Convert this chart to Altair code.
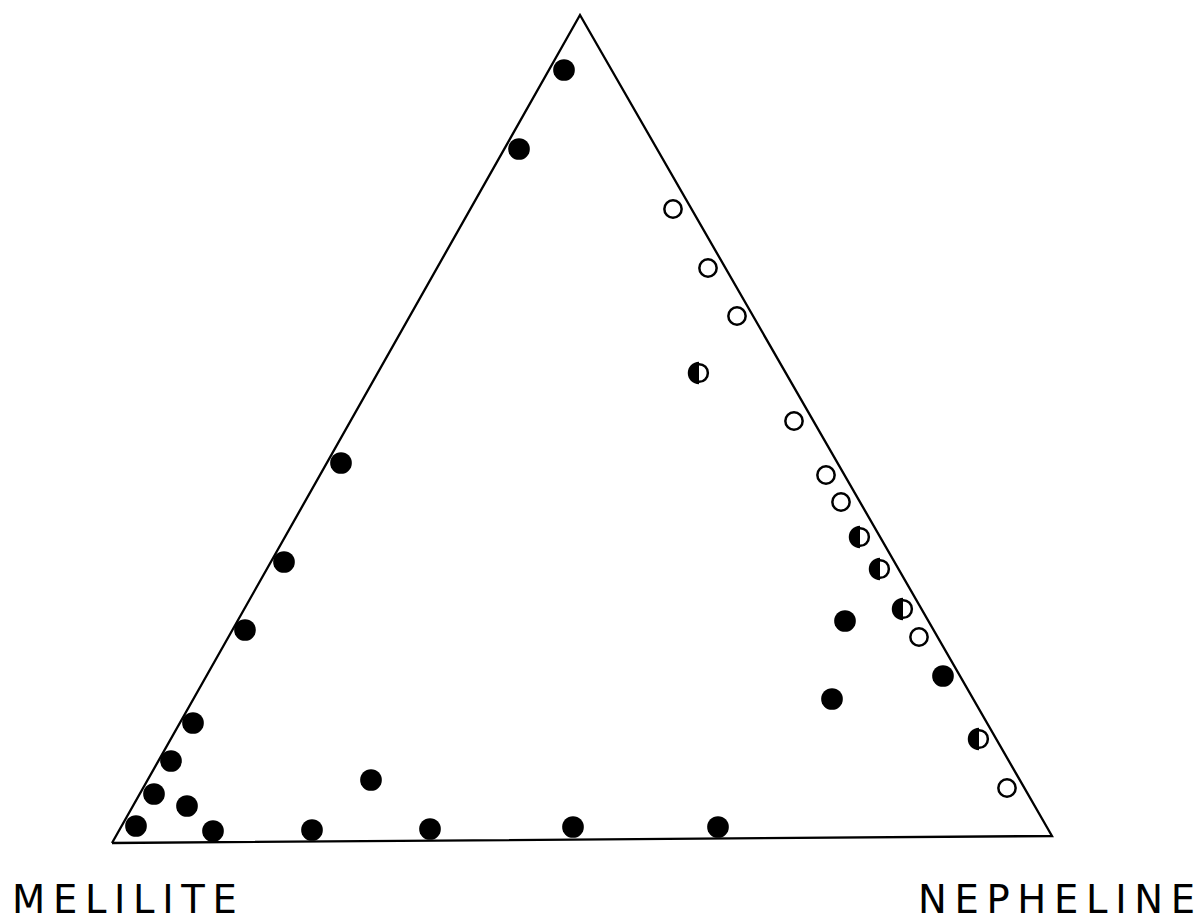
import altair as alt
import pandas as pd

W, H = 1198, 920

# Triangle outline (closed), drawing coordinates
tri_x = [112, 580, 1052, 112]
tri_y = [843, 15, 836, 843]

# Solid symbols
solid_x = [564, 519, 341, 284, 245, 193, 171, 154, 136, 187, 213, 312, 371, 430, 573, 718, 845, 832, 943]
solid_y = [70, 149, 463, 562, 630, 723, 761, 794, 826, 806, 831, 830, 780, 829, 827, 827, 621, 699, 676]

# Open symbols
hollow_x = [673, 708, 737, 794, 826, 841, 919, 1007]
hollow_y = [209, 268, 316, 421, 475, 502, 637, 788]

# Half-filled symbols
half_x = [699, 860, 880, 903, 979]
half_y = [373, 537, 569, 609, 739]

corner_left = "MELILITE"
corner_right = "NEPHELINE"

# letter-spaced labels (thin space between letters)
THIN = "\u2009"


def spaced(s):
    return THIN.join(s)


xs = alt.Scale(domain=[0, W], nice=False, zero=False)
ys = alt.Scale(domain=[0, H], nice=False, zero=False, reverse=True)


def enc(**kw):
    return dict(
        x=alt.X("x:Q", scale=xs, axis=None),
        y=alt.Y("y:Q", scale=ys, axis=None),
        **kw,
    )


tri = pd.DataFrame({"x": tri_x, "y": tri_y, "i": range(len(tri_x))})
solid = pd.DataFrame({"x": solid_x, "y": solid_y})
hollow = pd.DataFrame({"x": hollow_x, "y": hollow_y})
half = pd.DataFrame({"x": half_x, "y": half_y})

outline = alt.Chart(tri).mark_line(color="black", strokeWidth=2.3).encode(
    **enc(order="i:Q")
)

solid_pts = alt.Chart(solid).mark_circle(color="black", size=470, opacity=1).encode(**enc())

ring_style = dict(
    shape="circle", filled=True, fill="white", stroke="black", strokeWidth=2.5,
    opacity=1, fillOpacity=1, strokeOpacity=1,
)

hollow_pts = alt.Chart(hollow).mark_point(size=300, **ring_style).encode(**enc())

half_ring = alt.Chart(half).mark_point(size=315, **ring_style).encode(**enc())

# left half of the disc filled
half_fill = alt.Chart(half).mark_point(
    shape="M0,-1A1,1 0 0 0 0,1Z", filled=True, fill="black", strokeWidth=0,
    size=506, opacity=1, fillOpacity=1,
).encode(**enc())

font = "DejaVu Sans"
label_left = alt.Chart(pd.DataFrame({"t": [spaced(corner_left)]})).mark_text(
    font=font, fontSize=38.5, align="left", baseline="alphabetic", color="black"
).encode(x=alt.value(12), y=alt.value(913), text="t:N")

label_right = alt.Chart(pd.DataFrame({"t": [spaced(corner_right)]})).mark_text(
    font=font, fontSize=38.5, align="right", baseline="alphabetic", color="black"
).encode(x=alt.value(1195), y=alt.value(913), text="t:N")

chart = (
    alt.layer(outline, solid_pts, hollow_pts, half_ring, half_fill, label_left, label_right)
    .properties(width=W, height=H, padding=0, background="white")
    .configure_view(stroke=None)
)

chart.save("out.html", embed_options={"renderer": "svg", "actions": False})
